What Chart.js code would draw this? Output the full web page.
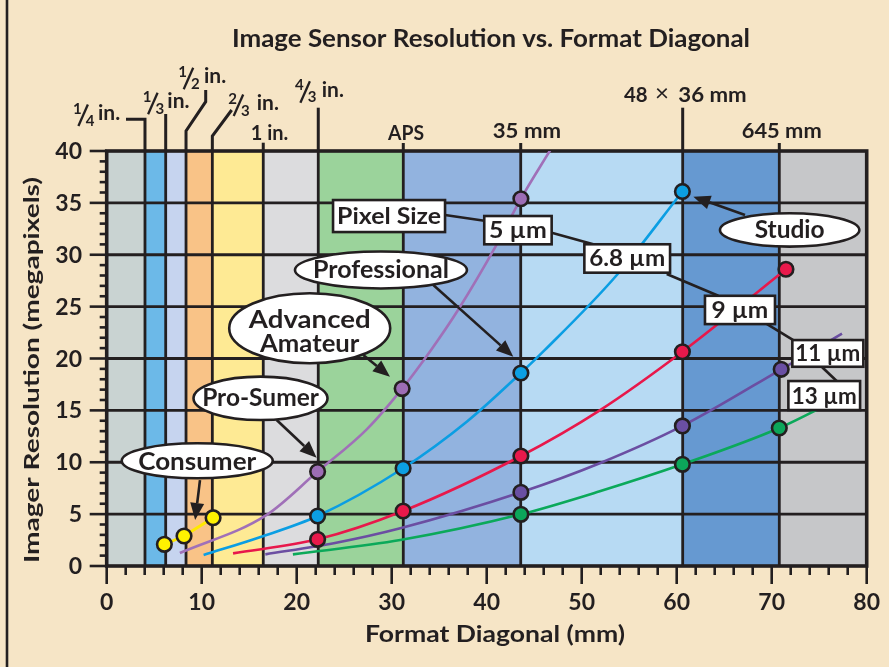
<!DOCTYPE html>
<html>
<head>
<meta charset="utf-8">
<script src="https://cdn.jsdelivr.net/npm/chart.js@4.4.1/dist/chart.umd.min.js"></script>
<style>
  html, body { margin: 0; padding: 0; background: #f6e5c6; }
  canvas { display: block; }
</style>
</head>
<body>
<canvas id="chart" width="889" height="667"></canvas>
<script>
// format diagonals (mm) that split the plot into bands
const formatEdges = [0, 4.03, 6.21, 8.35, 11.12, 16.48, 22.27, 31.22, 43.58, 60.63, 70.8, 80];

// pixel size curves (x = diagonal mm, y = megapixels)
const um5X   = [7.7, 16.8, 22.2, 27.4, 31.1, 34.2, 37.0, 41.0, 43.6, 46.7];
const um5Y   = [1.25, 4.9, 9.1, 13.2, 17.1, 20.9, 24.7, 30.9, 35.4, 40.1];
const um68X  = [10.2, 16.2, 22.2, 31.2, 37.9, 43.6, 46.1, 53.7, 60.6];
const um68Y  = [1.06, 2.8, 4.82, 9.42, 13.9, 18.6, 20.8, 28.05, 36.1];
const um9X   = [13.3, 22.2, 31.2, 43.6, 51.9, 60.6, 71.5];
const um9Y   = [1.22, 2.57, 5.3, 10.6, 15.0, 20.65, 28.6];
const um11X  = [16.7, 23.9, 30.9, 43.6, 51.9, 60.6, 71.0, 77.4];
const um11Y  = [1.12, 2.19, 3.63, 7.1, 9.9, 13.5, 18.96, 22.4];
const um13X  = [19.6, 30.9, 43.6, 51.9, 60.6, 70.8, 77.0];
const um13Y  = [1.12, 2.5, 4.98, 7.2, 9.8, 13.3, 16.1];

// marked cameras on each curve
const dot5X  = [22.2, 31.1, 43.6];
const dot5Y  = [9.1, 17.1, 35.4];
const dot68X = [22.2, 31.2, 43.6, 60.6];
const dot68Y = [4.82, 9.42, 18.6, 36.1];
const dot9X  = [22.2, 31.2, 43.6, 60.6, 71.5];
const dot9Y  = [2.57, 5.3, 10.6, 20.65, 28.6];
const dot11X = [43.6, 60.6, 71.0];
const dot11Y = [7.1, 13.5, 18.96];
const dot13X = [43.6, 60.6, 70.8];
const dot13Y = [4.98, 9.8, 13.3];
const consumerX = [6.07, 8.14, 11.2];
const consumerY = [2.09, 2.89, 4.66];

const INK = '#231f20';
const FONT = 'Lato';
const bandColors = ['#c9d3d2', '#6cb9e8', '#c6d4ef', '#f9c387', '#feea94', '#dcdcde',
                    '#9bd39b', '#92b3df', '#b7daf3', '#6699d1', '#c6c7c9'];

function pts(xs, ys) {
    return xs.map((v, i) => ({ x: v, y: ys[i] }));
}

function curve(xs, ys, color) {
    return {
        data: pts(xs, ys), showLine: true, borderColor: color, borderWidth: 2.6,
        pointRadius: 0, cubicInterpolationMode: 'monotone', fill: false
    };
}

function dots(xs, ys, color) {
    return {
        data: pts(xs, ys), showLine: false, pointRadius: 7.3, pointBorderWidth: 2.6,
        pointBorderColor: INK, pointBackgroundColor: color
    };
}

// text helper: optional width squeezes/stretches the text horizontally
function txt(ctx, s, x, y, size, w, align, weight) {
    ctx.save();
    ctx.font = (weight || 'bold') + ' ' + size + 'px ' + FONT;
    const m = ctx.measureText(s).width;
    const sx = w ? w / m : 1;
    ctx.translate(x, y);
    ctx.scale(sx, 1);
    ctx.textAlign = align || 'center';
    ctx.textBaseline = 'alphabetic';
    ctx.fillStyle = INK;
    ctx.fillText(s, 0, 0);
    ctx.restore();
}

function line(ctx, p, lw) {
    ctx.beginPath();
    ctx.moveTo(p[0], p[1]);
    for (let i = 2; i < p.length; i += 2) ctx.lineTo(p[i], p[i + 1]);
    ctx.lineWidth = lw || 3;
    ctx.strokeStyle = INK;
    ctx.stroke();
}

function arrow(ctx, x1, y1, x2, y2) {
    const a = Math.atan2(y2 - y1, x2 - x1);
    const L = 17, W = 7;
    const bx = x2 - L * Math.cos(a), by = y2 - L * Math.sin(a);
    line(ctx, [x1, y1, bx, by], 2.6);
    ctx.beginPath();
    ctx.moveTo(x2, y2);
    ctx.lineTo(bx + W * Math.sin(a), by - W * Math.cos(a));
    ctx.lineTo(bx - W * Math.sin(a), by + W * Math.cos(a));
    ctx.closePath();
    ctx.fillStyle = INK;
    ctx.fill();
}

function frac(ctx, num, den, x0, inX, b) {
    ctx.save();
    ctx.font = 'bold 15px ' + FONT;
    const nw = ctx.measureText(num).width;
    ctx.restore();
    const s = x0 + nw * 0.62;
    txt(ctx, num, x0, b - 6.5, 15, null, 'left');
    line(ctx, [s, b + 6, s + 9.5, b - 15.5], 2.3);
    txt(ctx, den, s + 7.3, b + 5.5, 15, null, 'left');
    txt(ctx, 'in.', inX, b, 21, null, 'left');
}

const backdrop = {
    id: 'backdrop',
    beforeDraw(chart) {
        const ctx = chart.ctx;
        ctx.save();
        ctx.fillStyle = '#f6e5c6';
        ctx.fillRect(0, 0, chart.width, chart.height);
        line(ctx, [7, 0, 7, chart.height], 2.6);
        ctx.restore();
    },
    beforeDatasetsDraw(chart) {
        const { ctx, chartArea: a, scales: { x, y } } = chart;
        ctx.save();
        for (let i = 0; i < bandColors.length; i++) {
            const l = x.getPixelForValue(formatEdges[i]);
            const r = x.getPixelForValue(formatEdges[i + 1]);
            ctx.fillStyle = bandColors[i];
            ctx.fillRect(l, a.top, r - l, a.bottom - a.top);
        }
        y.ticks.forEach(t => {
            if (t.value > 0 && t.value < 40) {
                const py = y.getPixelForValue(t.value);
                line(ctx, [a.left, py, a.right, py], 2.8);
            }
        });
        for (let i = 1; i < formatEdges.length - 1; i++) {
            const px = x.getPixelForValue(formatEdges[i]);
            line(ctx, [px, a.top, px, a.bottom], 2.8);
        }
        ctx.lineWidth = 3.6;
        ctx.strokeStyle = INK;
        ctx.strokeRect(a.left, a.top, a.right - a.left, a.bottom - a.top);
        ctx.restore();
    },
    afterDatasetsDraw(chart) {
        const { ctx, scales: { x, y } } = chart;
        const P = (xv, yv) => [x.getPixelForValue(xv), y.getPixelForValue(yv)];
        ctx.save();

        // pixel size chain of boxes
        const leaders = [[35.61, 33.83, 39.75, 33.28], [46.84, 32.12, 51.22, 31.01],
                         [58.95, 28.14, 64.38, 26.05], [69.47, 23.33, 72.27, 21.78],
                         [75.26, 19.21, 76.84, 17.83]];
        leaders.forEach(l => line(ctx, [...P(l[0], l[1]), ...P(l[2], l[3])], 2.6));
        const boxes = [
            ['Pixel Size', 29.72, 33.73, 112, 32, 104],
            ['5 \u00b5m', 43.29, 32.37, 67.4, 28.3, 57.7],
            ['6.8 \u00b5m', 54.79, 29.64, 85.7, 28.4, 76],
            ['9 \u00b5m', 66.66, 24.68, 70, 28.3, 56.7],
            ['11 \u00b5m', 75.91, 20.49, 71, 26.7, 65],
            ['13 \u00b5m', 75.53, 16.43, 71.7, 29, 65]
        ];
        boxes.forEach(b => {
            const [cx, cy] = P(b[1], b[2]);
            ctx.fillStyle = '#ffffff';
            ctx.fillRect(cx - b[3] / 2, cy - b[4] / 2, b[3], b[4]);
            ctx.lineWidth = 2.6;
            ctx.strokeStyle = INK;
            ctx.strokeRect(cx - b[3] / 2, cy - b[4] / 2, b[3], b[4]);
            txt(ctx, b[0], cx, cy + 8, 23, b[5]);
        });

        // camera class callouts
        const ovals = [
            { t: ['Consumer'], c: [9.53, 10.14], rx: 75.5, ry: 17.5, w: [118], dy: [8.8], ar: [9.82, 8.27, 9.31, 4.43] },
            { t: ['Pro-Sumer'], c: [16.19, 16.16], rx: 67, ry: 21.7, w: [116.7], dy: [8], ar: [17.89, 14.07, 22.1, 10.44] },
            { t: ['Advanced', 'Amateur'], c: [21.37, 22.91], rx: 80.5, ry: 35, w: [121.7, 99.3], dy: [-0.3, 23.7], ar: [27.01, 20.34, 29.82, 18.25] },
            { t: ['Professional'], c: [28.87, 28.53], rx: 86, ry: 18.5, w: [136], dy: [8], ar: [34.38, 27.08, 42.8, 20.17] },
            { t: ['Studio'], c: [71.89, 32.39], rx: 69.7, ry: 16.7, w: [70], dy: [8], ar: [67.19, 33.83, 61.75, 35.6] }
        ];
        ovals.forEach(o => {
            const [sx, sy] = P(o.ar[0], o.ar[1]);
            const [ex, ey] = P(o.ar[2], o.ar[3]);
            arrow(ctx, sx, sy, ex, ey);
            const [cx, cy] = P(o.c[0], o.c[1]);
            ctx.beginPath();
            ctx.ellipse(cx, cy, o.rx, o.ry, 0, 0, Math.PI * 2);
            ctx.fillStyle = '#ffffff';
            ctx.fill();
            ctx.lineWidth = 2.6;
            ctx.strokeStyle = INK;
            ctx.stroke();
            o.t.forEach((s, i) => txt(ctx, s, cx, cy + o.dy[i], 24, o.w[i]));
        });
        ctx.restore();
    },
    afterDraw(chart) {
        const { ctx, chartArea: a, scales: { x, y } } = chart;
        ctx.save();

        // axis ticks and labels
        for (let v = 0; v <= 40; v++) {
            const py = y.getPixelForValue(v);
            line(ctx, [a.left - (v % 5 === 0 ? 17 : 7), py, a.left, py], 2.6);
        }
        y.ticks.forEach(t => txt(ctx, String(t.value), 82, y.getPixelForValue(t.value) + 8, 23, null, 'right'));
        for (let v = 0; v <= 80; v += 2) {
            const px = x.getPixelForValue(v);
            line(ctx, [px, a.bottom, px, a.bottom + (v % 10 === 0 ? 18 : 9)], 2.6);
        }
        x.ticks.forEach(t => txt(ctx, String(t.value), x.getPixelForValue(t.value), 610, 23));

        // titles
        txt(ctx, 'Image Sensor Resolution vs. Format Diagonal', 491, 47.3, 25, 518);
        txt(ctx, 'Format Diagonal (mm)', 495, 642, 22, 260);
        ctx.save();
        ctx.translate(39, 370);
        ctx.rotate(-Math.PI / 2);
        txt(ctx, 'Imager Resolution (megapixels)', 0, 0, 21, 386);
        ctx.restore();

        // format names above the plot
        const X = v => x.getPixelForValue(v);
        const top = a.top;
        line(ctx, [X(formatEdges[1]), top, X(formatEdges[1]), 119.3, 126, 119.3], 3);
        line(ctx, [X(formatEdges[2]), top, X(formatEdges[2]), 114], 3);
        line(ctx, [X(formatEdges[3]), top, X(formatEdges[3]), 131, 205.7, 101.7, 205.7, 90], 3);
        line(ctx, [X(formatEdges[4]), top, X(formatEdges[4]), 136, 231.7, 110], 3);
        line(ctx, [X(formatEdges[5]), top, X(formatEdges[5]), 142.7], 3);
        line(ctx, [X(formatEdges[6]), top, X(formatEdges[6]), 107.7], 3);
        line(ctx, [X(formatEdges[7]), top, X(formatEdges[7]), 143], 3);
        line(ctx, [X(formatEdges[8]), top, X(formatEdges[8]), 143], 3);
        line(ctx, [X(formatEdges[9]), top, X(formatEdges[9]), 107.7], 3);
        line(ctx, [X(formatEdges[10]), top, X(formatEdges[10]), 143], 3);

        frac(ctx, '1', '4', 73, 98, 120);
        frac(ctx, '1', '3', 142.7, 167.3, 108.3);
        frac(ctx, '1', '2', 178.3, 204, 83.3);
        frac(ctx, '2', '3', 228.3, 256.7, 110);
        frac(ctx, '4', '3', 295, 321.7, 96.7);
        txt(ctx, '1 in.', 250.7, 140, 21, 37.6, 'left');
        txt(ctx, 'APS', 406, 140, 21, 36);
        txt(ctx, '35 mm', 526.9, 138.3, 21, 68.3);
        txt(ctx, '48', 624, 101.7, 21, 23.7, 'left');
        txt(ctx, '\u00d7', 662, 100.5, 24, null, 'center', 'normal');
        txt(ctx, '36 mm', 678.3, 101.7, 21, 68.4, 'left');
        txt(ctx, '645 mm', 781.7, 138.3, 21, 80);
        ctx.restore();
    }
};

new Chart(document.getElementById('chart'), {
    type: 'scatter',
    data: {
        datasets: [
            dots(consumerX, consumerY, '#fff100'),
            dots(dot5X, dot5Y, '#9d6db5'),
            dots(dot68X, dot68Y, '#0c9fe2'),
            dots(dot9X, dot9Y, '#e8194b'),
            dots(dot11X, dot11Y, '#6a4fa3'),
            dots(dot13X, dot13Y, '#0ca65a'),
            { data: pts(consumerX, consumerY), showLine: true, borderColor: '#ffe800', borderWidth: 3, pointRadius: 0 },
            curve(um5X, um5Y, '#a070b8'),
            curve(um68X, um68Y, '#0b9ee3'),
            curve(um9X, um9Y, '#e8184b'),
            curve(um11X, um11Y, '#6b4ea2'),
            curve(um13X, um13Y, '#0ba95a')
        ]
    },
    options: {
        responsive: false,
        animation: false,
        devicePixelRatio: 1,
        layout: { padding: { top: 151, right: 22.3, left: 0, bottom: 0 } },
        plugins: { legend: { display: false }, tooltip: { enabled: false }, title: { display: false } },
        scales: {
            x: {
                type: 'linear', min: 0, max: 80,
                ticks: { stepSize: 10, display: false },
                grid: { display: false }, border: { display: false },
                afterFit: s => { s.height = 101; }
            },
            y: {
                type: 'linear', min: 0, max: 40,
                ticks: { stepSize: 5, display: false },
                grid: { display: false }, border: { display: false },
                afterFit: s => { s.width = 106.7; }
            }
        }
    },
    plugins: [backdrop]
});
</script>
</body>
</html>
